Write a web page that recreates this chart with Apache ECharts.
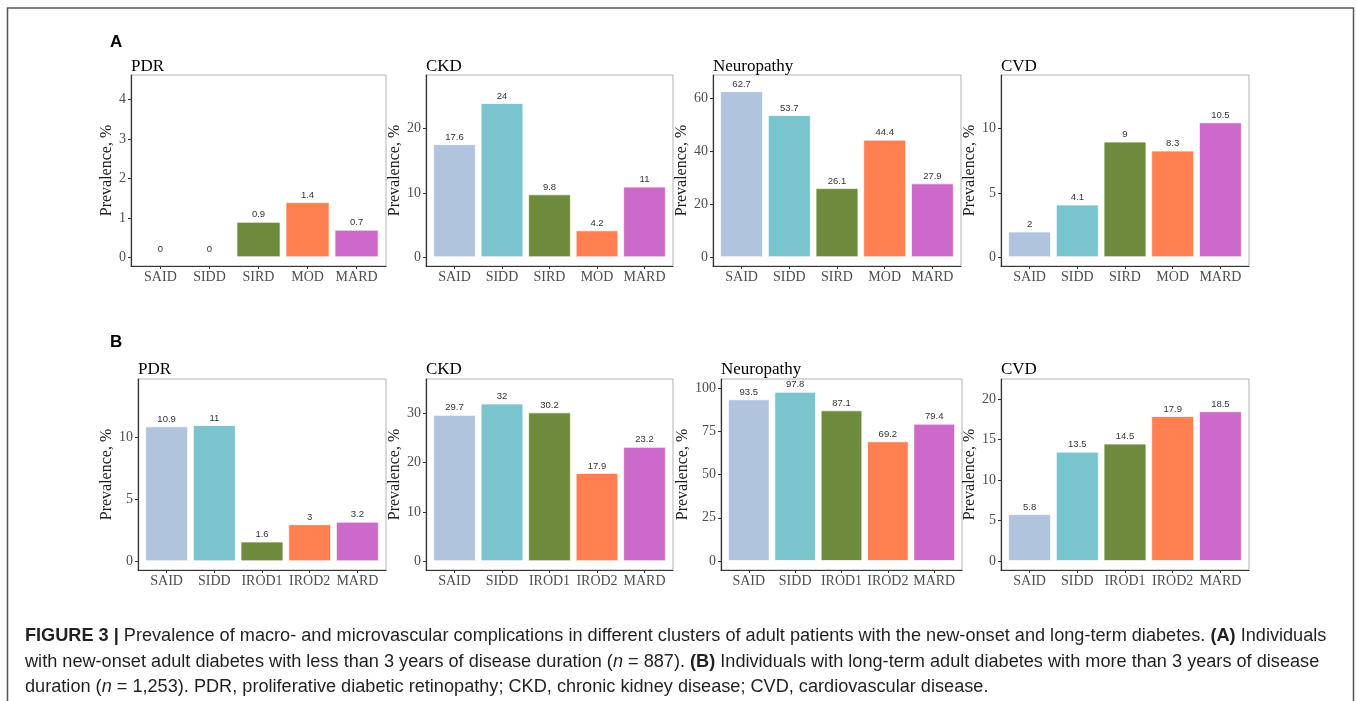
<!DOCTYPE html>
<html>
<head>
<meta charset="utf-8">
<script src="https://cdn.jsdelivr.net/npm/echarts@6/dist/echarts.min.js"></script>
<style>
html,body{margin:0;padding:0;background:#fff;}
#chart{width:1357px;height:701px;}
</style>
</head>
<body>
<div id="chart"></div>
<script>
// ---------- data ----------
const categoriesA = ['SAID', 'SIDD', 'SIRD', 'MOD', 'MARD'];
const categoriesB = ['SAID', 'SIDD', 'IROD1', 'IROD2', 'MARD'];
const panelTitles = ['PDR', 'CKD', 'Neuropathy', 'CVD'];
const rowLetters = ['A', 'B'];

const valuesA_PDR = [0, 0, 0.9, 1.4, 0.7];
const valuesA_CKD = [17.6, 24, 9.8, 4.2, 11];
const valuesA_Neuropathy = [62.7, 53.7, 26.1, 44.4, 27.9];
const valuesA_CVD = [2, 4.1, 9, 8.3, 10.5];

const valuesB_PDR = [10.9, 11, 1.6, 3, 3.2];
const valuesB_CKD = [29.7, 32, 30.2, 17.9, 23.2];
const valuesB_Neuropathy = [93.5, 97.8, 87.1, 69.2, 79.4];
const valuesB_CVD = [5.8, 13.5, 14.5, 17.9, 18.5];

const ticksA_PDR = [0, 1, 2, 3, 4];
const ticksA_CKD = [0, 10, 20];
const ticksA_Neuropathy = [0, 20, 40, 60];
const ticksA_CVD = [0, 5, 10];
const ticksB_PDR = [0, 5, 10];
const ticksB_CKD = [0, 10, 20, 30];
const ticksB_Neuropathy = [0, 25, 50, 75, 100];
const ticksB_CVD = [0, 5, 10, 15, 20];

// axis extents (ggplot-style expanded limits)
const rangeA_PDR = [-0.22, 4.62];
const rangeA_CKD = [-1.35, 28.35];
const rangeA_Neuropathy = [-3.3, 68.8];
const rangeA_CVD = [-0.68, 14.18];
const rangeB_PDR = [-0.70, 14.72];
const rangeB_CKD = [-1.78, 36.97];
const rangeB_Neuropathy = [-5.2, 105.2];
const rangeB_CVD = [-1.1, 22.47];

const yAxisName = 'Prevalence, %';

// ---------- styling / layout ----------
const barColors = ['#B0C4DE', '#7AC5CD', '#6E8B3D', '#FF7F50', '#CD69C9'];
const serif = "'Liberation Serif', 'Times New Roman', serif";
const sans = "'Liberation Sans', Arial, sans-serif";

const panels = [
  {cats: categoriesA, vals: valuesA_PDR, ticks: ticksA_PDR, range: rangeA_PDR, title: panelTitles[0]},
  {cats: categoriesA, vals: valuesA_CKD, ticks: ticksA_CKD, range: rangeA_CKD, title: panelTitles[1]},
  {cats: categoriesA, vals: valuesA_Neuropathy, ticks: ticksA_Neuropathy, range: rangeA_Neuropathy, title: panelTitles[2]},
  {cats: categoriesA, vals: valuesA_CVD, ticks: ticksA_CVD, range: rangeA_CVD, title: panelTitles[3]},
  {cats: categoriesB, vals: valuesB_PDR, ticks: ticksB_PDR, range: rangeB_PDR, title: panelTitles[0]},
  {cats: categoriesB, vals: valuesB_CKD, ticks: ticksB_CKD, range: rangeB_CKD, title: panelTitles[1]},
  {cats: categoriesB, vals: valuesB_Neuropathy, ticks: ticksB_Neuropathy, range: rangeB_Neuropathy, title: panelTitles[2]},
  {cats: categoriesB, vals: valuesB_CVD, ticks: ticksB_CVD, range: rangeB_CVD, title: panelTitles[3]}
];

const layout = [
  {left: 131, top: 75, width: 255, height: 191, nameGap: 10, titleY: 67},
  {left: 426, top: 75, width: 247, height: 191, nameGap: 16, titleY: 67},
  {left: 713, top: 75, width: 248, height: 191, nameGap: 16, titleY: 67},
  {left: 1001, top: 75, width: 248, height: 191, nameGap: 16, titleY: 67},
  {left: 138, top: 379, width: 248, height: 191, nameGap: 16, titleY: 370},
  {left: 426, top: 379, width: 247, height: 191, nameGap: 16, titleY: 370},
  {left: 721, top: 379, width: 241, height: 191, nameGap: 23, titleY: 370},
  {left: 1001, top: 379, width: 248, height: 191, nameGap: 16, titleY: 370}
];
// discrete-axis padding like ggplot (0.6 category on each side)
const xPad = 0.6;

const grids = [], xAxes = [], yAxes = [], series = [], graphics = [];

panels.forEach((p, i) => {
  const L = layout[i];
  const idx = p.cats.map((c, k) => k);
  grids.push({
    left: L.left, top: L.top, width: L.width, height: L.height,
    show: true, borderColor: '#b3b3b3', borderWidth: 1, backgroundColor: '#ffffff'
  });
  xAxes.push({
    type: 'value', gridIndex: i, min: -xPad, max: p.cats.length - 1 + xPad,
    axisLine: {onZero: false, lineStyle: {color: '#333', width: 1.2}},
    axisTick: {show: true, customValues: idx, length: 3, lineStyle: {color: '#333'}},
    axisLabel: {customValues: idx, formatter: (v) => p.cats[Math.round(v)],
      fontFamily: serif, fontSize: 14, color: '#4d4d4d', margin: 4},
    splitLine: {show: false}
  });
  yAxes.push({
    type: 'value', gridIndex: i, min: p.range[0], max: p.range[1],
    name: yAxisName, nameLocation: 'middle', nameGap: L.nameGap, nameRotate: 90,
    nameTextStyle: {fontFamily: serif, fontSize: 16, color: '#1a1a1a'},
    axisLine: {show: true, onZero: false, lineStyle: {color: '#333', width: 1.2}},
    axisTick: {show: true, customValues: p.ticks, length: 3, lineStyle: {color: '#333'}},
    axisLabel: {customValues: p.ticks, fontFamily: serif, fontSize: 14, color: '#4d4d4d', margin: 5},
    splitLine: {show: false}
  });
  series.push({
    type: 'bar', xAxisIndex: i, yAxisIndex: i,
    data: p.vals.map((v, k) => ({value: [k, v], itemStyle: {color: barColors[k]}})),
    barWidth: '90%',
    itemStyle: {borderColor: 'rgba(255,255,255,0.7)', borderWidth: 1},
    label: {show: true, position: 'top', distance: 2, fontFamily: sans, fontSize: 9.5, color: '#333',
      formatter: (prm) => String(prm.value[1])},
    silent: true, animation: false
  });
  graphics.push({
    type: 'text', x: L.left, y: L.titleY, silent: true,
    style: {text: p.title, fontFamily: serif, fontSize: 17, fill: '#000', align: 'left', verticalAlign: 'middle'}
  });
});

// panel letters
graphics.push({type: 'text', x: 110, y: 42, silent: true,
  style: {text: rowLetters[0], fontFamily: sans, fontWeight: 'bold', fontSize: 17, fill: '#000', verticalAlign: 'middle'}});
graphics.push({type: 'text', x: 110, y: 342, silent: true,
  style: {text: rowLetters[1], fontFamily: sans, fontWeight: 'bold', fontSize: 17, fill: '#000', verticalAlign: 'middle'}});

// outer frame
graphics.push({type: 'rect', silent: true, shape: {x: 7.5, y: 8, width: 1346, height: 730},
  style: {fill: 'none', stroke: '#555', lineWidth: 1.5}});

// caption
const capSize = 18.15;
const capColor = '#231f20';
const rich = {
  n: {fontFamily: sans, fontSize: capSize, fill: capColor},
  b: {fontFamily: sans, fontSize: capSize, fill: capColor, fontWeight: 'bold'},
  i: {fontFamily: sans, fontSize: capSize, fill: capColor, fontStyle: 'italic'}
};
const captionLines = [
  '{b|FIGURE 3 |}{n| Prevalence of macro- and microvascular complications in different clusters of adult patients with the new-onset and long-term diabetes. }{b|(A)}{n| Individuals}',
  '{n|with new-onset adult diabetes with less than 3 years of disease duration (}{i|n}{n| = 887). }{b|(B)}{n| Individuals with long-term adult diabetes with more than 3 years of disease}',
  '{n|duration (}{i|n}{n| = 1,253). PDR, proliferative diabetic retinopathy; CKD, chronic kidney disease; CVD, cardiovascular disease.}'
];
const captionY = [636, 661.5, 687];
captionLines.forEach((t, k) => {
  graphics.push({type: 'text', x: 25, y: captionY[k], silent: true,
    style: {text: t, rich: rich, fontFamily: sans, fontSize: capSize, fill: capColor, verticalAlign: 'middle'}});
});

const chart = echarts.init(document.getElementById('chart'), null, {renderer: 'canvas'});
chart.setOption({
  animation: false,
  backgroundColor: '#ffffff',
  grid: grids,
  xAxis: xAxes,
  yAxis: yAxes,
  series: series,
  graphic: graphics
});
</script>
</body>
</html>
